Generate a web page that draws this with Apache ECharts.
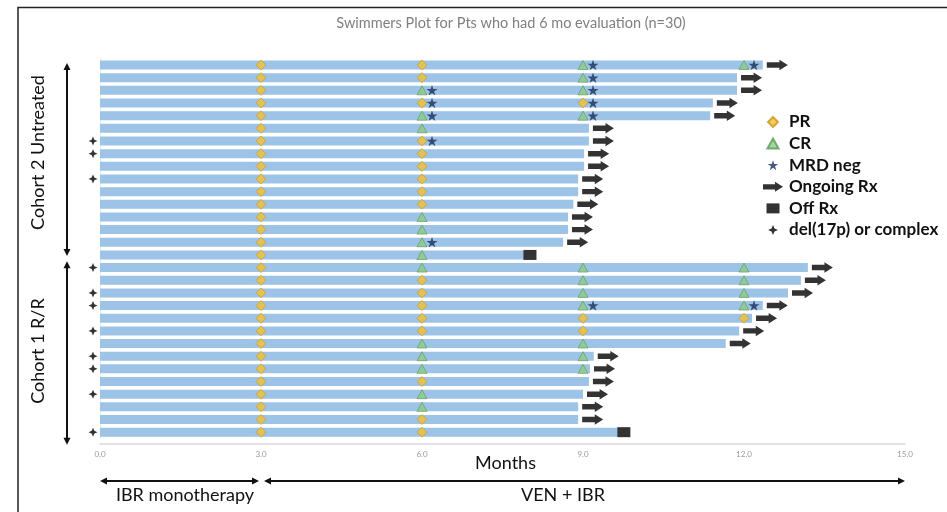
<!DOCTYPE html>
<html>
<head>
<meta charset="utf-8">
<script src="https://cdn.jsdelivr.net/npm/echarts@6/dist/echarts.min.js"></script>
<style>html,body{margin:0;padding:0;background:#fff}#c{width:947px;height:512px}</style>
</head>
<body>
<div id="c"></div>
<script>
// ---------- data (rows top to bottom) ----------
const patients = ['1','2','3','4','5','6','7','8','9','10','11','12','13','14','15','16',
                  '17','18','19','20','21','22','23','24','25','26','27','28','29','30'];
const durations = [12.35, 11.87, 11.87, 11.42, 11.37, 9.11, 9.11, 9.02, 9.02, 8.91, 8.91, 8.82, 8.72, 8.72, 8.63, 7.9,
                   13.19, 13.06, 12.82, 12.35, 12.15, 11.91, 11.66, 9.2, 9.13, 9.11, 9.0, 8.91, 8.91, 9.65];
const evalMonths = [3, 6, 9, 12];
const resp3 = ['PR','PR','PR','PR','PR','PR','PR','PR','PR','PR','PR','PR','PR','PR','PR','PR',
               'PR','PR','PR','PR','PR','PR','PR','PR','PR','PR','PR','PR','PR','PR'];
const resp6 = ['PR','PR','CR','PR','CR','CR','PR','PR','PR','PR','PR','PR','CR','CR','CR','CR',
               'CR','PR','PR','PR','PR','PR','CR','CR','CR','PR','CR','CR','PR','PR'];
const resp9 = ['CR','CR','CR','PR','CR',null,null,null,null,null,null,null,null,null,null,null,
               'CR','CR','CR','CR','PR','PR','CR','CR','CR',null,null,null,null,null];
const resp12 = ['CR',null,null,null,null,null,null,null,null,null,null,null,null,null,null,null,
                'CR','CR','CR','CR','PR',null,null,null,null,null,null,null,null,null];
const mrd3  = [0,0,0,0,0,0,0,0,0,0,0,0,0,0,0,0, 0,0,0,0,0,0,0,0,0,0,0,0,0,0];
const mrd6  = [0,0,1,1,1,0,1,0,0,0,0,0,0,0,1,0, 0,0,0,0,0,0,0,0,0,0,0,0,0,0];
const mrd9  = [1,1,1,1,1,0,0,0,0,0,0,0,0,0,0,0, 0,0,0,1,0,0,0,0,0,0,0,0,0,0];
const mrd12 = [1,0,0,0,0,0,0,0,0,0,0,0,0,0,0,0, 0,0,0,1,0,0,0,0,0,0,0,0,0,0];
const ongoing = [1,1,1,1,1,1,1,1,1,1,1,1,1,1,1,0, 1,1,1,1,1,1,1,1,1,1,1,1,1,0];
const del17p  = [0,0,0,0,0,0,1,1,0,1,0,0,0,0,0,0, 1,0,1,1,0,1,0,1,1,0,1,0,0,1];
const xTicks = [0, 3, 6, 9, 12, 15];
const cohorts = [{name:'Cohort 2 Untreated', first:0, last:15}, {name:'Cohort 1 R/R', first:16, last:29}];
const phases = [{name:'IBR monotherapy', from:0, to:3}, {name:'VEN + IBR', from:3, to:15}];

// ---------- build ----------
const respArrays = [resp3, resp6, resp9, resp12];
const mrdArrays = [mrd3, mrd6, mrd9, mrd12];
const prData = [], crData = [], mrdData = [], ongoingData = [], offData = [], delData = [];
evalMonths.forEach((m, k) => {
  respArrays[k].forEach((r, i) => {
    if (r === 'PR') prData.push([m, i]);
    else if (r === 'CR') crData.push([m, i]);
    if (mrdArrays[k][i]) mrdData.push([m, i]);
  });
});
durations.forEach((d, i) => {
  if (ongoing[i]) ongoingData.push([d, i]); else offData.push([d, i]);
  if (del17p[i]) delData.push([0, i]);
});

const FONT = 'Lato';
const starPath = 'path://M50,0 L61.8,36.2 L100,36.2 L69.1,58.6 L80.9,95.1 L50,72.7 L19.1,95.1 L30.9,58.6 L0,36.2 L38.2,36.2 Z';
const arrowPath = 'path://M0,2.4 L12,2.4 L12,0 L20,5 L12,10 L12,7.6 L0,7.6 Z';
const diamondPath = 'path://M5,0 L10,5 L5,10 L0,5 Z';
const triPath = 'path://M5,0 L10,9 L0,9 Z';
const rectPath = 'path://M0,0 L13,0 L13,10 L0,10 Z';
const plusPath = 'path://M5,0 L6.5,3.5 L10,5 L6.5,6.5 L5,10 L3.5,6.5 L0,5 L3.5,3.5 Z';

const chart = echarts.init(document.getElementById('c'), null, {renderer: 'canvas'});
const option = {
  animation: false,
  title: {
    text: 'Swimmers Plot for Pts who had 6 mo evaluation (n=30)',
    left: 506, top: 11, textAlign: 'center',
    textStyle: {fontFamily: FONT, fontSize: 14.5, fontWeight: 'normal', color: '#7f7f7f'}
  },
  legend: {
    orient: 'vertical', left: 758, top: 108.5, itemWidth: 22, itemHeight: 10, itemGap: 4.6,
    selectedMode: false,
    data: ['PR', 'CR', 'MRD neg', 'Ongoing Rx', 'Off Rx', 'del(17p) or complex'],
    textStyle: {fontFamily: FONT, fontSize: 17, fontWeight: 'bold', color: '#111'}
  },
  grid: {left: 100, width: 805, top: 58.7, height: 379.8},
  xAxis: {
    type: 'value', min: 0, max: 15, interval: 3, offset: 5,
    axisLine: {show: true, lineStyle: {color: '#d9d9d9', width: 1.5}},
    axisTick: {show: false}, splitLine: {show: false},
    axisLabel: {fontFamily: FONT, fontSize: 8, color: '#999', margin: 7,
                formatter: v => xTicks.indexOf(v) >= 0 ? v.toFixed(1) : ''}
  },
  yAxis: {
    type: 'category', data: patients, inverse: true,
    axisLine: {show: true, lineStyle: {color: '#ececec'}},
    axisTick: {show: false}, axisLabel: {show: false}, splitLine: {show: false}
  },
  series: [
    {type: 'bar', name: 'duration', data: durations, barWidth: 9, itemStyle: {color: '#9dc3e6'}, z: 1, silent: true},
    {type: 'scatter', name: 'PR', data: prData, symbol: diamondPath, symbolKeepAspect: true, symbolSize: [10, 10],
     itemStyle: {color: '#f4c131', borderColor: '#c9961a', borderWidth: 0.8}, z: 5},
    {type: 'scatter', name: 'CR', data: crData, symbol: triPath, symbolKeepAspect: true, symbolSize: [10, 10],
     itemStyle: {color: '#8fcb88', borderColor: '#5a9a55', borderWidth: 0.8}, z: 5},
    {type: 'scatter', name: 'MRD neg', data: mrdData, symbol: starPath, symbolKeepAspect: true, symbolSize: [11, 11],
     symbolOffset: [10, 0], itemStyle: {color: '#1a2f5a'}, z: 6},
    {type: 'scatter', name: 'Ongoing Rx', data: ongoingData, symbol: arrowPath, symbolKeepAspect: true, symbolSize: [21, 21],
     symbolOffset: [14.5, 0], itemStyle: {color: '#000'}, z: 5},
    {type: 'scatter', name: 'Off Rx', data: offData, symbol: rectPath, symbolKeepAspect: true, symbolSize: [13, 13],
     symbolOffset: [6, 0], itemStyle: {color: '#000'}, z: 5},
    {type: 'scatter', name: 'del(17p) or complex', data: delData, symbol: plusPath, symbolKeepAspect: true, symbolSize: [9, 9],
     symbolOffset: [-7, 0], itemStyle: {color: '#000'}, z: 5}
  ]
};
chart.setOption(option);

// ---------- annotations from the axes ----------
function xPix(v) { return chart.convertToPixel({xAxisIndex: 0}, v); }
function yPix(i) { return chart.convertToPixel({yAxisIndex: 0}, i); }
const AH = 7, AW = 3.5;
function dblArrowH(y, x1, x2) {
  return [
    {type: 'line', shape: {x1: x1 + 2, y1: y, x2: x2 - 2, y2: y}, style: {stroke: '#111', lineWidth: 2}},
    {type: 'polygon', shape: {points: [[x1, y], [x1 + AH, y - AW], [x1 + AH, y + AW]]}, style: {fill: '#111'}},
    {type: 'polygon', shape: {points: [[x2, y], [x2 - AH, y - AW], [x2 - AH, y + AW]]}, style: {fill: '#111'}}
  ];
}
function dblArrowV(x, y1, y2) {
  return [
    {type: 'line', shape: {x1: x, y1: y1 + 2, x2: x, y2: y2 - 2}, style: {stroke: '#111', lineWidth: 2}},
    {type: 'polygon', shape: {points: [[x, y1], [x - AW, y1 + AH], [x + AW, y1 + AH]]}, style: {fill: '#111'}},
    {type: 'polygon', shape: {points: [[x, y2], [x - AW, y2 - AH], [x + AW, y2 - AH]]}, style: {fill: '#111'}}
  ];
}
const g = [];
g.push({type: 'polyline', shape: {points: [[18, 512], [18, 7.5], [947, 7.5]]}, style: {stroke: '#222', lineWidth: 1.5, fill: null}});
const band = yPix(1) - yPix(0);
cohorts.forEach((c, k) => {
  const yTop = yPix(c.first) - (k === 0 ? 2 : band / 2);
  const yBot = yPix(c.last) + (k === 0 ? 1 : band);
  dblArrowV(67, yTop, yBot).forEach(e => g.push(e));
  g.push({type: 'text', x: 38, y: (yTop + yBot) / 2 - (k === 0 ? 7 : 2), rotation: Math.PI / 2,
          style: {text: c.name, fontFamily: FONT, fontSize: 18, fill: '#111', align: 'center', verticalAlign: 'middle'}});
});
// axis title
g.push({type: 'text', x: (xPix(0) + xPix(15)) / 2 + 3, y: 463,
        style: {text: 'Months', fontFamily: FONT, fontSize: 18, fill: '#111', align: 'center', verticalAlign: 'middle'}});
const labelCenters = [185, 563];
phases.forEach((p, k) => {
  const a = xPix(p.from) + (k === 0 ? 0 : 3);
  const b = xPix(p.to) - (k === 0 ? 2 : 0);
  dblArrowH(481, a, b).forEach(e => g.push(e));
  g.push({type: 'text', x: labelCenters[k], y: 495,
          style: {text: p.name, fontFamily: FONT, fontSize: 18, fill: '#111', align: 'center', verticalAlign: 'middle'}});
});
chart.setOption({graphic: {elements: g}});
</script>
</body>
</html>
